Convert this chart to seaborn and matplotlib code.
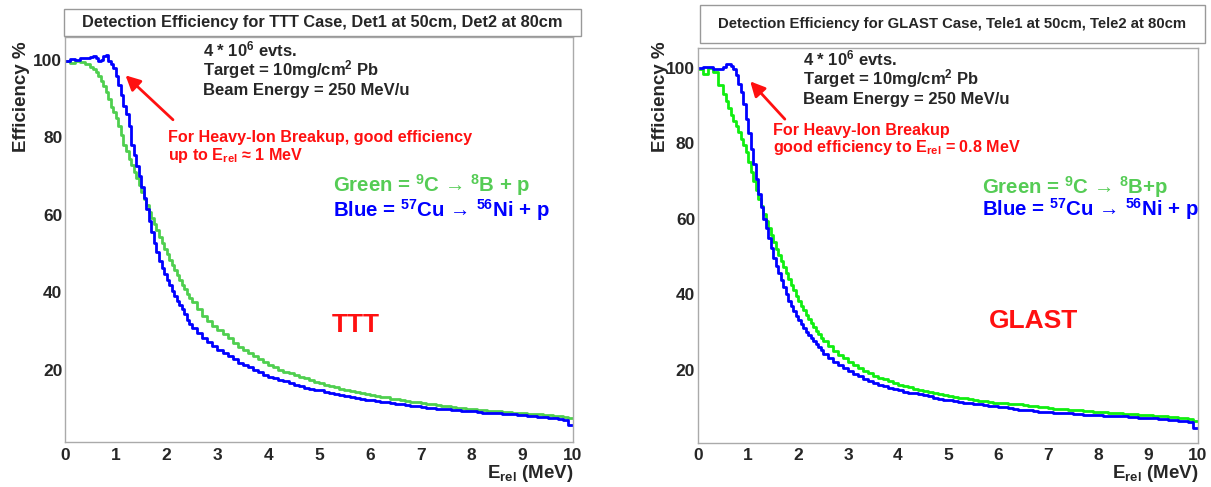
import numpy as np
import pandas as pd
import matplotlib
matplotlib.use('Agg')
import matplotlib.pyplot as plt
from matplotlib.patches import Rectangle
from matplotlib.ticker import MultipleLocator
import seaborn as sns

# E_rel histogram binning (MeV): 0.1 MeV bins, 0.05 MeV in the steep 0.5-2.5 region
edges = np.round(np.concatenate([np.arange(0, 0.5, 0.1),
                                 np.arange(0.5, 2.5, 0.05),
                                 np.arange(2.5, 10.001, 0.1)]), 3)
centers = (edges[:-1] + edges[1:]) / 2

# efficiency (%) per bin
# layout of each list: 5 bins (0-0.5) | 40 bins (0.5-2.5) | 75 bins (2.5-10)
ttt_green = [
    99.8, 99.2, 99.6, 99.4, 98.9,
    98.2, 97.6, 96.8, 95.8, 94.5, 93.2, 91.8, 89.8, 87.8, 86.5,
    85.0, 83.0, 80.5, 78.0, 76.5, 74.5, 72.8, 71.0, 69.5, 67.8,
    65.8, 64.2, 62.5, 60.8, 59.2, 57.6, 56.0, 54.3, 52.7, 51.2,
    49.8, 48.4, 47.0, 45.8, 44.6, 43.3, 42.0, 40.8, 39.6, 38.5,
    37.5, 35.8, 34.0, 32.6, 31.3,
    30.2, 29.2, 28.2, 27.0, 26.0, 25.2, 24.4, 23.6, 22.7, 22.0,
    21.3, 20.7, 20.1, 19.5, 19.1, 18.6, 18.2, 17.8, 17.3, 16.9,
    16.5, 16.1, 15.8, 15.5, 15.1, 14.8, 14.5, 14.2, 14.0, 13.7,
    13.5, 13.3, 13.1, 12.9, 12.6, 12.4, 12.2, 12.0, 11.8, 11.6,
    11.5, 11.3, 11.1, 11.0, 10.8, 10.6, 10.5, 10.3, 10.2, 10.0,
    9.9, 9.7, 9.6, 9.5, 9.4, 9.3, 9.2, 9.1, 9.0, 8.9,
    8.8, 8.7, 8.6, 8.5, 8.4, 8.3, 8.2, 8.0, 7.9, 7.5,
]
ttt_blue = [
    99.6, 100.2, 100.0, 100.6, 100.4,
    100.8, 101.0, 100.4, 99.8, 100.0, 101.0, 101.3, 99.8, 99.0, 97.8,
    95.8, 93.6, 91.0, 88.2, 86.0, 83.0, 78.0, 75.5, 72.5, 70.0,
    67.2, 64.3, 61.5, 58.5, 55.5, 52.8, 50.5, 48.2, 46.2, 44.8,
    43.3, 41.8, 40.3, 39.0, 37.8, 36.7, 35.6, 34.3, 33.0, 31.8,
    30.8, 29.5, 28.2, 27.3, 26.2,
    25.2, 24.3, 23.6, 22.7, 21.8, 21.2, 20.7, 20.0, 19.4, 18.8,
    18.3, 17.9, 17.5, 17.1, 16.6, 16.2, 15.8, 15.4, 15.1, 14.9,
    14.7, 14.3, 14.1, 13.9, 13.6, 13.3, 13.1, 12.8, 12.6, 12.3,
    12.2, 12.0, 11.8, 11.7, 11.5, 11.3, 11.1, 10.9, 10.8, 10.6,
    10.5, 10.3, 10.2, 10.0, 10.0, 9.8, 9.7, 9.6, 9.5, 9.3,
    9.3, 9.2, 9.0, 9.0, 8.9, 8.8, 8.7, 8.6, 8.6, 8.4,
    8.3, 8.2, 8.0, 7.9, 7.8, 7.6, 7.5, 7.3, 7.1, 5.8,
]
glast_green = [
    99.6, 98.4, 100.0, 98.8, 95.5,
    93.0, 91.2, 89.2, 87.5, 86.0, 84.6, 83.0, 81.2, 79.5, 77.6,
    75.0, 72.5, 70.0, 67.5, 65.2, 63.3, 61.3, 59.3, 57.6, 55.6,
    53.8, 52.0, 50.4, 48.8, 47.2, 45.6, 44.0, 42.5, 41.0, 39.6,
    38.3, 37.0, 35.8, 34.6, 33.4, 32.3, 31.3, 30.3, 29.4, 28.5,
    27.7, 26.3, 25.0, 23.9, 23.0,
    22.0, 21.2, 20.4, 19.7, 19.0, 18.4, 17.9, 17.4, 16.9, 16.4,
    16.0, 15.6, 15.3, 15.0, 14.7, 14.4, 14.1, 13.8, 13.5, 13.3,
    13.0, 12.8, 12.6, 12.4, 12.2, 12.0, 11.8, 11.6, 11.4, 11.3,
    11.2, 11.1, 11.0, 10.9, 10.8, 10.7, 10.5, 10.3, 10.2, 10.0,
    9.9, 9.7, 9.6, 9.5, 9.4, 9.3, 9.2, 9.1, 9.0, 8.9,
    8.8, 8.7, 8.6, 8.5, 8.4, 8.3, 8.3, 8.2, 8.1, 8.0,
    7.9, 7.8, 7.7, 7.6, 7.5, 7.4, 7.2, 7.1, 6.9, 6.4,
]
glast_blue = [
    100.0, 100.3, 100.1, 99.7, 99.6,
    100.2, 100.9, 101.0, 100.5, 99.6, 98.0, 95.8, 93.5, 90.5, 86.5,
    82.8, 78.5, 74.5, 70.5, 66.5, 63.0, 60.0, 57.5, 55.0, 52.3,
    49.5, 47.5, 45.5, 43.8, 41.8, 40.0, 38.3, 36.8, 35.5, 34.3,
    33.2, 32.1, 31.0, 30.0, 29.2, 28.4, 27.6, 26.8, 26.0, 25.2,
    24.2, 23.0, 22.0, 21.2, 20.4,
    19.6, 18.9, 18.2, 17.6, 17.0, 16.5, 16.0, 15.6, 15.1, 14.8,
    14.5, 14.2, 13.9, 13.7, 13.5, 13.2, 12.9, 12.6, 12.3, 12.1,
    11.9, 11.7, 11.5, 11.3, 11.1, 10.9, 10.8, 10.6, 10.4, 10.3,
    10.1, 10.0, 9.8, 9.6, 9.4, 9.3, 9.2, 9.0, 8.9, 8.8,
    8.7, 8.6, 8.5, 8.4, 8.4, 8.3, 8.2, 8.1, 8.0, 8.0,
    7.9, 7.8, 7.7, 7.7, 7.6, 7.6, 7.5, 7.4, 7.3, 7.3,
    7.2, 7.1, 7.0, 6.9, 6.8, 6.7, 6.5, 6.3, 6.1, 4.6,
]

sns.set_style('white')
plt.rcParams['font.family'] = ['Liberation Sans', 'DejaVu Sans']
plt.rcParams['font.weight'] = 'bold'
plt.rcParams['mathtext.fontset'] = 'custom'
for k in ['rm', 'it', 'bf', 'sf']:
    plt.rcParams['mathtext.' + k] = 'Liberation Sans:bold'
plt.rcParams['mathtext.default'] = 'rm'

fig = plt.figure(figsize=(12.11, 4.87), dpi=100)
ax1 = fig.add_axes([0.0537, 0.0924, 0.4195, 0.8316])
ax2 = fig.add_axes([0.5764, 0.091, 0.4129, 0.811])

GREEN_TXT = '#55cc55'
BLUE = '#0000ff'
RED = '#ff1010'
INFO_FS = 12
RED_FS = 11.6
EQ_FS = 14.7


def style_axes(ax, ylim):
    ax.set_xlim(0, 10)
    ax.set_ylim(*ylim)
    ax.xaxis.set_major_locator(MultipleLocator(1))
    ax.xaxis.set_minor_locator(MultipleLocator(0.2))
    ax.yaxis.set_major_locator(MultipleLocator(20))
    ax.yaxis.set_minor_locator(MultipleLocator(5))
    ax.tick_params(axis='x', which='major', direction='in', length=8.5, width=1,
                   color='#999999', labelsize=12.5, pad=4)
    ax.tick_params(axis='x', which='minor', direction='in', length=4.5, width=1, color='#999999')
    ax.tick_params(axis='y', which='major', direction='in', length=10.5, width=1,
                   color='#999999', labelsize=12.5, pad=2)
    ax.tick_params(axis='y', which='minor', direction='in', length=5.5, width=1, color='#999999')
    for s in ax.spines.values():
        s.set_color('#aaaaaa')
        s.set_linewidth(1)
    ax.set_xlabel('E$_{rel}$ (MeV)', loc='right', fontsize=13.5, fontweight='bold', labelpad=0)
    ax.set_ylabel('Efficiency %', loc='top', fontsize=13.5, fontweight='bold')


def draw_panel(ax, green, blue, green_line):
    df = pd.DataFrame({'E': centers, 'green': green, 'blue': blue})
    sns.histplot(data=df, x='E', weights='green', bins=list(edges),
                 element='step', fill=False, color=green_line, linewidth=2, ax=ax)
    sns.histplot(data=df, x='E', weights='blue', bins=list(edges),
                 element='step', fill=False, color=BLUE, linewidth=2, ax=ax)


def title_box(x0, y0, x1, y1, text, fs):
    W, H = 1211, 487
    fig.patches.append(Rectangle((x0 / W, 1 - y1 / H), (x1 - x0) / W, (y1 - y0) / H,
                                 transform=fig.transFigure, facecolor='white',
                                 edgecolor='#999999', lw=1))
    fig.text((x0 + x1) / 2 / W, 1 - (y0 + y1) / 2 / H, text, ha='center', va='center',
             fontsize=fs, fontweight='bold')


# ---- left: TTT
draw_panel(ax1, ttt_green, ttt_blue, '#4fcf4f')
style_axes(ax1, (1.4, 105.9))
ax1.yaxis.set_label_coords(-0.069, 0.99)
title_box(64, 9, 581, 36, 'Detection Efficiency for TTT Case, Det1 at 50cm, Det2 at 80cm', 11.8)
tr = ax1.transAxes
ax1.text(0.272, 0.951, '4 * 10$^{6}$ evts.', transform=tr, fontsize=INFO_FS)
ax1.text(0.272, 0.906, 'Target = 10mg/cm$^{2}$ Pb', transform=tr, fontsize=INFO_FS)
ax1.text(0.272, 0.857, 'Beam Energy = 250 MeV/u', transform=tr, fontsize=INFO_FS)
ax1.text(0.203, 0.741, 'For Heavy-Ion Breakup, good efficiency', transform=tr,
         fontsize=RED_FS, color=RED)
ax1.text(0.203, 0.696, 'up to E$_{rel}$ \u2248 1 MeV', transform=tr, fontsize=RED_FS, color=RED)
ax1.annotate('', xy=(0.115, 0.910), xytext=(0.2165, 0.791), xycoords='axes fraction',
             arrowprops=dict(arrowstyle='-|>', color=RED, lw=2, mutation_scale=22))
ax1.text(0.527, 0.618, 'Green = $^{9}$C \u2192 $^{8}$B + p', transform=tr, fontsize=EQ_FS,
         color=GREEN_TXT)
ax1.text(0.527, 0.556, 'Blue = $^{57}$Cu \u2192 $^{56}$Ni + p', transform=tr, fontsize=EQ_FS,
         color=BLUE)
ax1.text(0.572, 0.272, 'TTT', transform=tr, fontsize=19, color=RED, ha='center')

# ---- right: GLAST
draw_panel(ax2, glast_green, glast_blue, '#11ee11')
style_axes(ax2, (0.66, 105.3))
ax2.yaxis.set_label_coords(-0.058, 1.017)
title_box(700, 5, 1205, 43, 'Detection Efficiency for GLAST Case, Tele1 at 50cm, Tele2 at 80cm', 10.7)
tr = ax2.transAxes
ax2.text(0.2106, 0.954, '4 * 10$^{6}$ evts.', transform=tr, fontsize=INFO_FS)
ax2.text(0.2106, 0.906, 'Target = 10mg/cm$^{2}$ Pb', transform=tr, fontsize=INFO_FS)
ax2.text(0.2106, 0.857, 'Beam Energy = 250 MeV/u', transform=tr, fontsize=INFO_FS)
ax2.text(0.149, 0.779, 'For Heavy-Ion Breakup', transform=tr, fontsize=RED_FS, color=RED)
ax2.text(0.149, 0.737, 'good efficiency to E$_{rel}$ = 0.8 MeV', transform=tr,
         fontsize=RED_FS, color=RED)
ax2.annotate('', xy=(0.1006, 0.920), xytext=(0.1774, 0.814), xycoords='axes fraction',
             arrowprops=dict(arrowstyle='-|>', color=RED, lw=2, mutation_scale=22))
ax2.text(0.567, 0.629, 'Green = $^{9}$C \u2192 $^{8}$B+p', transform=tr, fontsize=EQ_FS,
         color=GREEN_TXT)
ax2.text(0.567, 0.574, 'Blue = $^{57}$Cu \u2192 $^{56}$Ni + p', transform=tr, fontsize=EQ_FS,
         color=BLUE)
ax2.text(0.6716, 0.291, 'GLAST', transform=tr, fontsize=19, color=RED, ha='center')

fig.savefig('out.png', dpi=100)
